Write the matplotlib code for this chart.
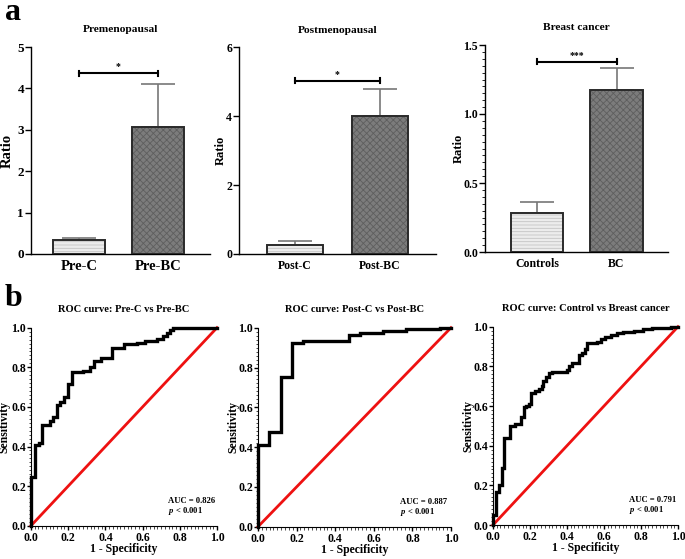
import matplotlib
matplotlib.use("Agg")
import matplotlib.pyplot as plt
from matplotlib.ticker import MultipleLocator
import numpy as np

plt.rcParams['font.family'] = ['Liberation Serif', 'DejaVu Serif']
plt.rcParams['font.weight'] = 'bold'
plt.rcParams['hatch.linewidth'] = 0.6
plt.rcParams['mathtext.fontset'] = 'custom'
plt.rcParams['mathtext.it'] = 'Liberation Serif:italic:bold'
plt.rcParams['mathtext.rm'] = 'Liberation Serif:bold'

# ---------------- data ----------------
bar_titles = ["Premenopausal", "Postmenopausal", "Breast cancer"]
bar_cats = [["Pre-C", "Pre-BC"], ["Post-C", "Post-BC"], ["Controls", "BC"]]
bar_means = [[0.33, 3.06], [0.25, 4.02], [0.283, 1.174]]
bar_err = [[0.06, 1.04], [0.14, 0.78], [0.079, 0.162]]
sig_y = [4.37, 5.04, 1.38]
sig_txt = ["*", "*", "***"]
ylims = [5, 6, 1.5]
yticks = [[0, 1, 2, 3, 4, 5], [0, 2, 4, 6], [0.0, 0.5, 1.0, 1.5]]

roc_titles = ["ROC curve: Pre-C vs Pre-BC", "ROC curve: Post-C vs Post-BC",
              "ROC curve: Control vs Breast cancer"]
roc1_fpr = [0, 0, 0.02, 0.043, 0.059, 0.10, 0.12, 0.141, 0.158, 0.179, 0.199, 0.219,
            0.28, 0.319, 0.339, 0.378, 0.437, 0.50, 0.572, 0.613, 0.676, 0.711, 0.73,
            0.747, 0.765, 1.0]
roc1_tpr = [0, 0.247, 0.407, 0.42, 0.508, 0.53, 0.55, 0.61, 0.623, 0.652, 0.714, 0.775,
            0.783, 0.80, 0.833, 0.845, 0.896, 0.916, 0.924, 0.934, 0.943, 0.96, 0.975,
            0.988, 1.0, 1.0]
roc2_fpr = [0, 0, 0.057, 0.118, 0.175, 0.20, 0.232, 0.47, 0.528, 0.648, 0.765, 0.943, 1.0]
roc2_tpr = [0, 0.41, 0.477, 0.75, 0.922, 0.925, 0.933, 0.962, 0.974, 0.984, 0.992, 1.0, 1.0]
roc3_fpr = [0, 0, 0.016, 0.031, 0.049, 0.059, 0.092, 0.12, 0.15, 0.166, 0.18, 0.195,
            0.207, 0.227, 0.247, 0.263, 0.272, 0.286, 0.305, 0.317, 0.40, 0.41, 0.425,
            0.467, 0.48, 0.495, 0.506, 0.564, 0.582, 0.605, 0.64, 0.672, 0.705, 0.76,
            0.81, 0.858, 0.96, 0.99, 1.0]
roc3_tpr = [0, 0.05, 0.167, 0.204, 0.285, 0.44, 0.50, 0.51, 0.544, 0.593, 0.60, 0.61,
            0.665, 0.675, 0.685, 0.70, 0.724, 0.744, 0.765, 0.771, 0.78, 0.80, 0.815,
            0.857, 0.865, 0.886, 0.916, 0.923, 0.936, 0.946, 0.958, 0.967, 0.972, 0.98,
            0.987, 0.993, 0.997, 1.0, 1.0]
roc_fpr = [roc1_fpr, roc2_fpr, roc3_fpr]
roc_tpr = [roc1_tpr, roc2_tpr, roc3_tpr]
auc_vals = ["0.826", "0.887", "0.791"]

# ---------------- figure ----------------
W, H = 685, 559
fig = plt.figure(figsize=(W / 100, H / 100), dpi=100)

def px_axes(x0, x1, ytop, ybot):
    return fig.add_axes([x0 / W, 1 - ybot / H, (x1 - x0) / W, (ybot - ytop) / H])

bar_boxes = [(31, 210, 47, 254), (239, 436, 47.5, 254), (485, 668, 45, 252)]
bar_xlims = [(-0.61, 1.66), (-0.66, 1.66), (-0.66, 1.65)]
bar_xtick_fs = [10.5, 8.5, 8.5]
bar_ytick_fs = [9.5, 8.5, 8.5]
bar_ylab_fs = [10.5, 9.0, 9.0]
bar_ylab_x = [-0.095, -0.061, -0.109]
roc_boxes = [(31, 217, 327.7, 525.7), (258, 451, 327.7, 526.7), (493, 678, 326.7, 525)]
roc_ylab_x = [-0.11, -0.098, -0.103]

fs_tick = 8.5

for i in range(3):
    ax = px_axes(*bar_boxes[i])
    x = np.arange(2)
    face = ['#ececec', '#7c7c7c']
    hcol = ['#c4c4c4', '#5e5e5e']
    hatch = ['-----', 'xxxxx']
    for j in range(2):
        ax.bar(x[j], bar_means[i][j], width=0.66, color=face[j], edgecolor=hcol[j],
               hatch=hatch[j], linewidth=0, zorder=2)
        ax.bar(x[j], bar_means[i][j], width=0.66, fill=False, edgecolor='#2a2a2a',
               linewidth=1.4, zorder=3)
        ax.errorbar(x[j], bar_means[i][j], yerr=[[0], [bar_err[i][j]]], fmt='none',
                    ecolor='#777777', elinewidth=1.2, capsize=12, capthick=1.2, zorder=1)
    # significance bracket
    ax.plot([0, 1], [sig_y[i], sig_y[i]], color='black', lw=1.5, zorder=4)
    tick_h = ylims[i] * 0.012
    for xx in [0, 1]:
        ax.plot([xx, xx], [sig_y[i] - tick_h, sig_y[i] + tick_h], color='black', lw=1.5)
    ax.text(0.5, sig_y[i] + ylims[i] * 0.008, sig_txt[i], ha='center', va='bottom',
            fontsize=7, fontweight='bold')
    ax.set_xlim(*bar_xlims[i])
    ax.set_ylim(0, ylims[i])
    ax.set_yticks(yticks[i])
    if i == 2:
        ax.yaxis.set_minor_locator(MultipleLocator(0.05))
        ax.set_yticklabels(["0.0", "0.5", "1.0", "1.5"])
    ax.set_xticks(x)
    ax.set_xticklabels(bar_cats[i], fontsize=bar_xtick_fs[i], fontweight='bold')
    ax.tick_params(axis='x', length=0, pad=4)
    ax.tick_params(axis='y', which='major', length=4, width=1,
                   labelsize=bar_ytick_fs[i], pad=1)
    ax.tick_params(axis='y', which='minor', length=2, width=0.6)
    for s in ['top', 'right']:
        ax.spines[s].set_visible(False)
    for s in ['left', 'bottom']:
        ax.spines[s].set_linewidth(1.0)
    ax.set_title(bar_titles[i], fontsize=8.2, fontweight='bold', pad=10.5)
    ax.set_ylabel("Ratio", fontsize=bar_ylab_fs[i], fontweight='bold')
    ax.yaxis.set_label_coords(bar_ylab_x[i], 0.5)

for i in range(3):
    ax = px_axes(*roc_boxes[i])
    ax.plot([0, 1], [0, 1], color='#ee1111', lw=2.0, clip_on=False, zorder=2)
    ax.plot(roc_fpr[i], roc_tpr[i], drawstyle='steps-post', color='black', lw=2.4,
            clip_on=False, zorder=3, solid_joinstyle='miter')
    ax.set_xlim(0, 1)
    ax.set_ylim(0, 1)
    ticks = np.round(np.arange(0, 1.01, 0.2), 1)
    ax.set_xticks(ticks)
    ax.set_yticks(ticks)
    ax.set_xticklabels([f"{t:.1f}" for t in ticks])
    ax.set_yticklabels([f"{t:.1f}" for t in ticks])
    ax.xaxis.set_minor_locator(MultipleLocator(0.02))
    ax.yaxis.set_minor_locator(MultipleLocator(0.02))
    ax.tick_params(which='major', length=3, width=1, labelsize=fs_tick)
    ax.tick_params(axis='y', which='major', pad=0.5)
    ax.tick_params(axis='x', which='major', pad=1.5)
    ax.tick_params(which='minor', length=1.8, width=0.5)
    for s in ['top', 'right']:
        ax.spines[s].set_visible(False)
    ax.set_title(roc_titles[i], fontsize=7.6, fontweight='bold', pad=11.5)
    ax.set_xlabel("1 - Specificity", fontsize=fs_tick, fontweight='bold')
    ax.xaxis.set_label_coords(0.5, -0.088)
    ax.set_ylabel("Sensitivity", fontsize=fs_tick, fontweight='bold')
    ax.yaxis.set_label_coords(roc_ylab_x[i], 0.5)
    ax.text(0.735, 0.126, f"AUC = {auc_vals[i]}", transform=ax.transAxes, fontsize=6.2,
            fontweight='bold', ha='left', va='center')
    ax.text(0.735, 0.076, r"$p$ < 0.001", transform=ax.transAxes, fontsize=6.2,
            fontweight='bold', ha='left', va='center')

fig.text(5 / W, 1 - 20 / H, "a", fontsize=23, fontweight='bold', ha='left', va='baseline')
fig.text(5 / W, 1 - 306 / H, "b", fontsize=23, fontweight='bold', ha='left', va='baseline')

fig.savefig("out.png", dpi=100)
